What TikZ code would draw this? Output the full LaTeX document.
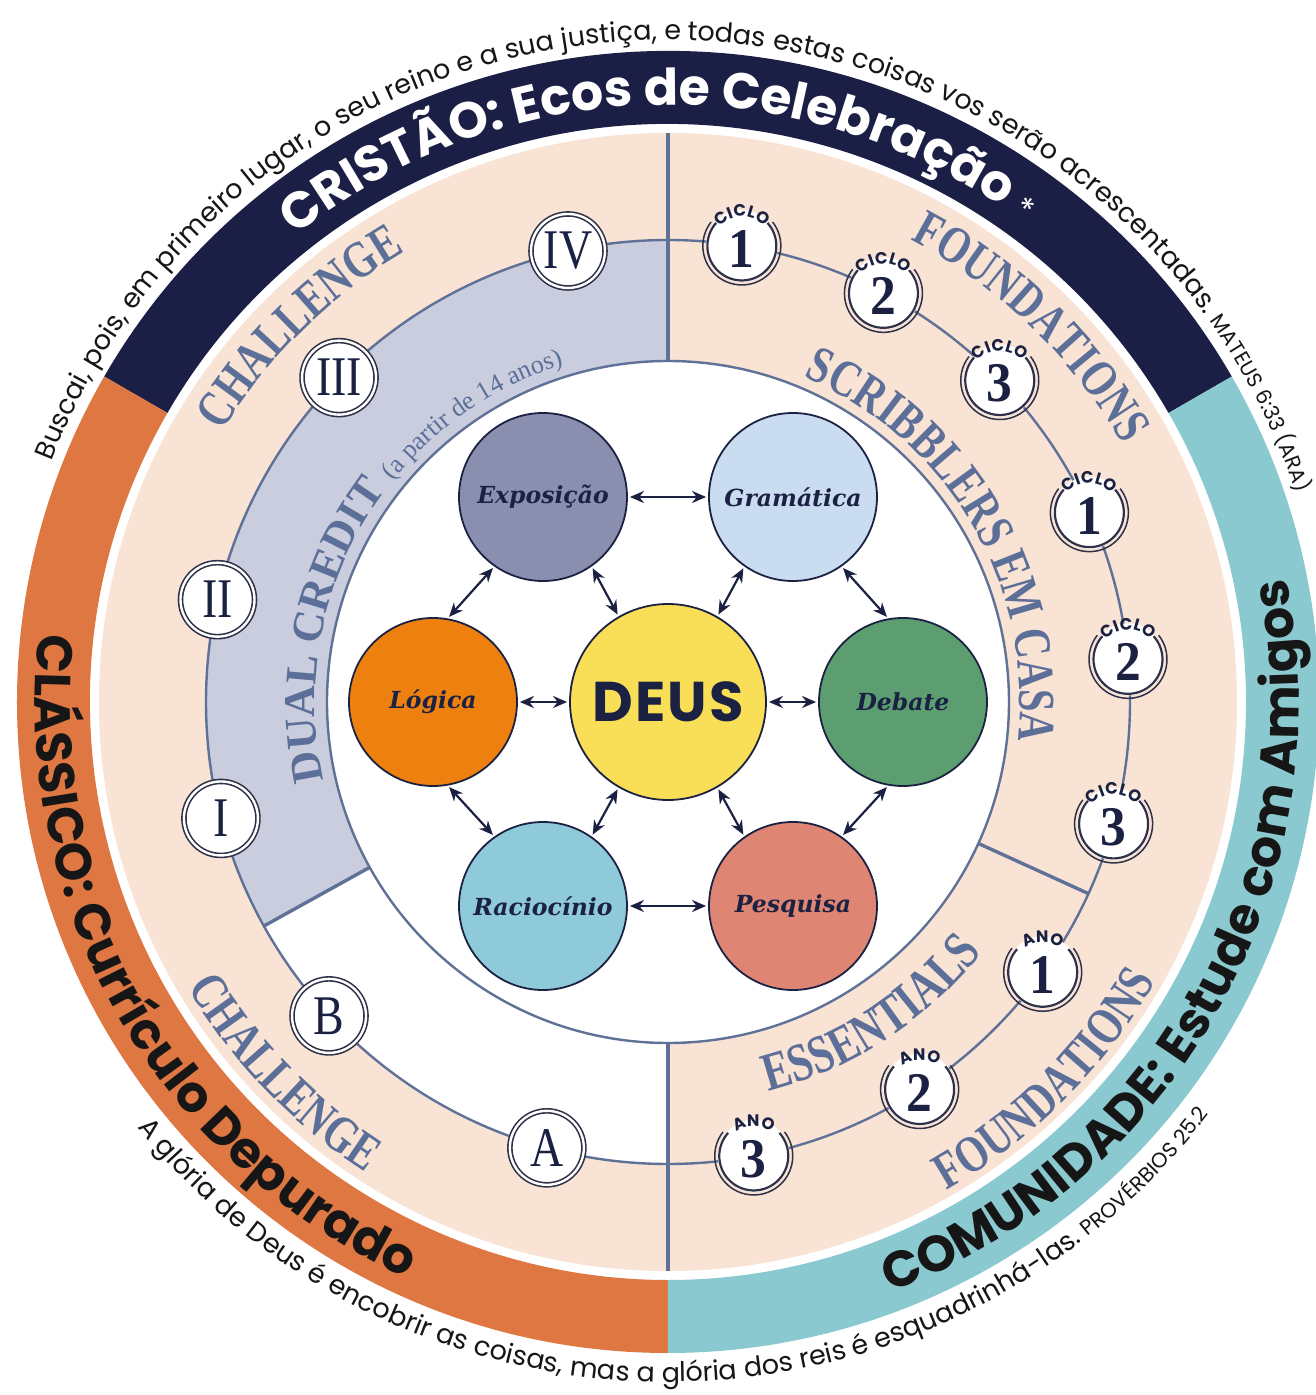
\documentclass[tikz,border=0pt]{standalone}
\usepackage{fontspec}
\usepackage{graphicx}
\usetikzlibrary{arrows.meta,decorations.text}
\setmainfont{Liberation Serif}
\newfontfamily\pop{Poppins}
\newfontfamily\cserif[FakeStretch=0.78]{Liberation Serif}
\newfontfamily\romf[FakeStretch=0.82]{Liberation Serif}
\newfontfamily\digf[FakeStretch=0.92]{Liberation Serif}
\newfontfamily\nodef{DejaVu Serif}
\definecolor{navyband}{HTML}{1B1F45}
\definecolor{orangeband}{HTML}{DF7743}
\definecolor{tealband}{HTML}{8BC9D1}
\definecolor{peach}{HTML}{F9E3D4}
\definecolor{lavender}{HTML}{C9CDDE}
\definecolor{slate}{HTML}{5F7196}
\definecolor{labelcol}{HTML}{5B6F98}
\definecolor{navytext}{HTML}{1B2142}
\definecolor{ringcol}{HTML}{2E3148}
\definecolor{cExpo}{HTML}{8A8EAF}
\definecolor{cGram}{HTML}{CADCEF}
\definecolor{cLog}{HTML}{EE800F}
\definecolor{cDeus}{HTML}{F9DE57}
\definecolor{cDeb}{HTML}{5D9E70}
\definecolor{cRac}{HTML}{8FCADB}
\definecolor{cPesq}{HTML}{DF8573}
\definecolor{versecol}{HTML}{161616}
\newcommand\fBand{\pop\bfseries\fontsize{50.5}{56}\selectfont}
\newcommand\fStar{\pop\fontsize{32}{34}\selectfont}
\newcommand\fVerse{\pop\fontsize{27}{30}\selectfont}
\newcommand\fRef{\pop\fontsize{21}{23}\selectfont}
\newcommand\fLab{\cserif\bfseries\fontsize{52}{54}\selectfont}
\newcommand\fDual{\bfseries\fontsize{44}{48}\selectfont}
\newcommand\fSmall{\fontsize{26}{28}\selectfont}
\newcommand\fCyc{\pop\bfseries\fontsize{16.5}{18}\selectfont}
\newcommand\arctext[5]{\path[decorate,decoration={text along path,text={#5},text align=center,text color=#1}] (#3:#2) arc[start angle=#3,end angle=#4,radius=#2];}
\newcommand\ringnum[4]{%
 \node[cycnode] (#1) at (#2:462) {};
 \draw[ringline] ([shift={(38:39)}]#1.center) arc[start angle=38,end angle=-218,radius=39];
 \draw[ringline, line width=2.2pt] ([shift={(42:34.5)}]#1.center) arc[start angle=42,end angle=-222,radius=34.5];
 \path[decorate,decoration={text along path,text={|\fCyc|#3},text align=center,text color=navytext}] ([shift={(170:29.5)}]#1.center) arc[start angle=170,end angle=10,radius=29.5];
 \node[digit] (#1n) at ([yshift=-3pt]#1.center) {#4};
}
\begin{document}
\begin{tikzpicture}[x=1pt,y=1pt,
 cycnode/.style={circle, fill=white, minimum size=72pt, inner sep=0pt},
 ringline/.style={draw=ringcol, line width=1.5pt},
 digit/.style={font=\digf\bfseries\fontsize{56}{56}\selectfont, text=navytext, inner sep=0pt},
 romnode/.style={circle, draw=ringcol, line width=1.6pt, double=white, double distance=2.4pt, fill=white, minimum size=74pt, inner sep=0pt, font=\romf\fontsize{56}{56}\selectfont, text=navytext},
 bignode/.style={circle, draw=navytext, line width=1.8pt, minimum size=168pt, inner sep=0pt, font=\nodef\bfseries\itshape\fontsize{23.5}{26}\selectfont, text=navytext},
 biarrow/.style={<->, >={Stealth[length=14pt,width=12pt]}, line width=2.2pt, draw=navytext, shorten <=2pt, shorten >=2pt},
 trackline/.style={draw=slate, line width=2.4pt},
 divider/.style={draw=slate, line width=3.4pt}]
\useasboundingbox (-668,-693) rectangle (647,702);
\fill[white] (-668,-693) rectangle (647,702);
% outer bands
\fill[navyband] (30:578) arc[start angle=30,end angle=150,radius=578] -- (150:651) arc[start angle=150,end angle=30,radius=651] -- cycle;
\fill[orangeband] (150:578) arc[start angle=150,end angle=270,radius=578] -- (270:651) arc[start angle=270,end angle=150,radius=651] -- cycle;
\fill[tealband] (270:578) arc[start angle=270,end angle=390,radius=578] -- (390:651) arc[start angle=390,end angle=270,radius=651] -- cycle;
% peach disc and inner fields
\fill[peach] (0,0) circle (569);
\fill[white] (0,0) circle (341);
\fill[lavender] (90:341) -- (90:462) arc[start angle=90,end angle=209,radius=462] -- (209:341) arc[start angle=209,end angle=90,radius=341] -- cycle;
\fill[white] (209:341) -- (209:462) arc[start angle=209,end angle=270,radius=462] -- (270:341) arc[start angle=270,end angle=209,radius=341] -- cycle;
% lines
\draw[trackline] (0,0) circle (341);
\draw[trackline] (0,0) circle (462);
\draw[divider] (90:341) -- (90:569);
\draw[divider] (270:341) -- (270:569);
\draw[divider] (209:341) -- (209:462);
\draw[divider] (-24.5:341) -- (-24.5:462);
% band texts
\arctext{white}{597}{171}{11}{|\fBand|CRISTÃO: Ecos de Celebração |\fStar|*}
\arctext{versecol}{633}{139.7}{279.7}{|\fBand|CLÁSSICO: Currículo Depurado}
\arctext{versecol}{631}{261}{401}{|\fBand|COMUNIDADE: Estude com Amigos}
% verses
\arctext{versecol}{662}{179}{-2}{|\fVerse|Buscai, pois, em primeiro lugar, o seu reino e a sua justiça, e todas estas coisas vos serão acrescentadas. |\fRef|MATEUS 6:33 (ARA)}
\arctext{versecol}{680}{180.7}{360.7}{|\fVerse|A glória de Deus é encobrir as coisas, mas a glória dos reis é esquadrinhá-las. |\fRef|PROVÉRBIOS 25.2}
% inner labels
\arctext{labelcol}{521}{179.5}{89.5}{|\fLab|CHALLENGE}
\arctext{labelcol}{353}{240}{60}{|\fDual|DUAL CREDIT |\fSmall|(a partir de 14 anos)}
\arctext{labelcol}{522}{100.9}{-9.1}{|\fLab|FOUNDATIONS}
\arctext{labelcol}{352}{110.5}{-49.5}{|\fLab|SCRIBBLERS EM CASA}
\arctext{labelcol}{402}{-107}{-7}{|\cserif\bfseries\fontsize{54}{56}\selectfont|ESSENTIALS}
\arctext{labelcol}{562}{-100}{10}{|\fLab|FOUNDATIONS}
\arctext{labelcol}{559}{179}{269}{|\fLab|CHALLENGE}
% roman nodes
\node[romnode] (rIV) at (102.5:462) {IV};
\node[romnode] (rIII) at (135.4:462) {III};
\node[romnode] (rII) at (167.2:462) {II};
\node[romnode] (rI) at (194.6:462) {I};
\node[romnode] (rB) at (222.8:462) {B};
\node[romnode] (rA) at (254.8:462) {A};
% cycle nodes
\ringnum{cA1}{80.8}{CICLO}{1}
\ringnum{cA2}{62.2}{CICLO}{2}
\ringnum{cA3}{44.1}{CICLO}{3}
\ringnum{cB1}{24.2}{CICLO}{1}
\ringnum{cB2}{5.3}{CICLO}{2}
\ringnum{cB3}{-15.3}{CICLO}{3}
\ringnum{an1}{-35.8}{ANO}{1}
\ringnum{an2}{-57}{ANO}{2}
\ringnum{an3}{-79.3}{ANO}{3}
% centre
\node[bignode, fill=cDeus, minimum size=196pt, font=\pop\bfseries\fontsize{56}{56}\selectfont] (deus) at (0,0) {D\kern2pt E\kern2pt U\kern2pt S};
\node[bignode, fill=cExpo] (expo) at (-125,205) {Exposição};
\node[bignode, fill=cGram] (gram) at (125,205) {Gramática};
\node[bignode, fill=cLog] (log) at (-235,0) {Lógica};
\node[bignode, fill=cDeb] (deb) at (235,0) {Debate};
\node[bignode, fill=cRac] (rac) at (-125,-204) {Raciocínio};
\node[bignode, fill=cPesq] (pesq) at (125,-204) {Pesquisa};
\draw[biarrow] (expo.east) -- (gram.west);
\draw[biarrow] (log.east) -- (deus.west);
\draw[biarrow] (deus.east) -- (deb.west);
\draw[biarrow] (rac.east) -- (pesq.west);
\draw[biarrow] (expo.235) -- (log.80);
\draw[biarrow] (gram.305) -- (deb.100);
\draw[biarrow] (log.280) -- (rac.125);
\draw[biarrow] (deb.260) -- (pesq.55);
\draw[biarrow] (expo.305) -- (deus.120);
\draw[biarrow] (gram.235) -- (deus.60);
\draw[biarrow] (rac.55) -- (deus.240);
\draw[biarrow] (pesq.125) -- (deus.300);
\end{tikzpicture}
\end{document}
